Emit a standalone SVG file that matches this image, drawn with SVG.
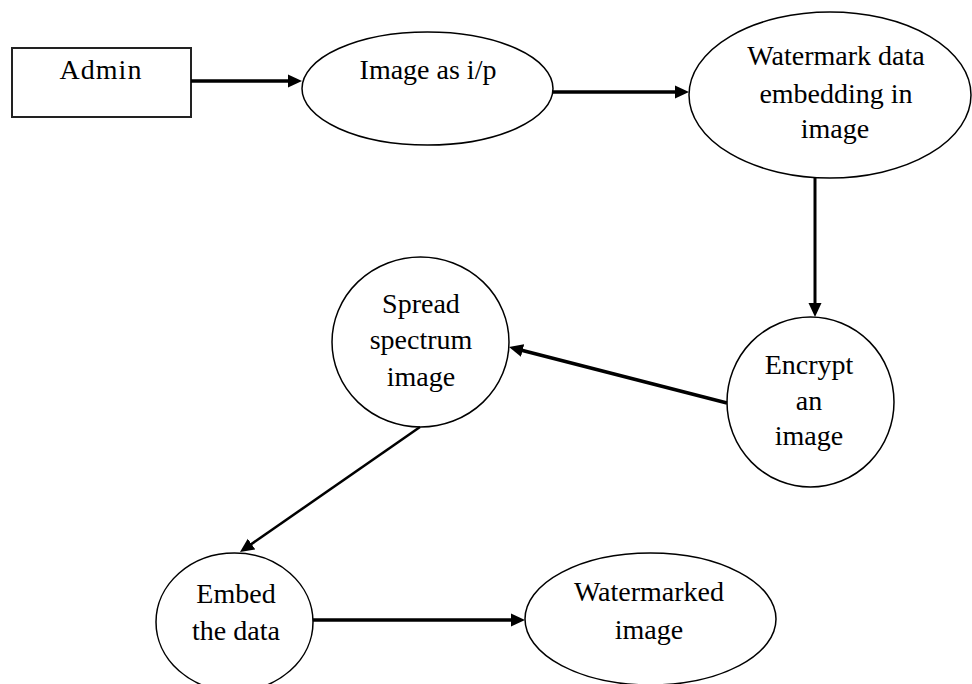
<svg xmlns="http://www.w3.org/2000/svg" width="972" height="684" viewBox="0 0 972 684">
  <style>
    .node { fill: #ffffff; stroke: #000000; stroke-width: 1.5; }
    .box { fill: #ffffff; stroke: #222222; stroke-width: 2; }
    .lbl { font-family: "Liberation Serif", "Times New Roman", serif; font-size: 28px; fill: #000000; text-anchor: middle; }
    .edge { fill: none; stroke: #000000; stroke-width: 3.5; marker-end: url(#arrow); }
    .thin { stroke-width: 2.5; }
  </style>
  <defs>
    <marker id="arrow" markerUnits="userSpaceOnUse" markerWidth="14" markerHeight="14" refX="4" refY="7" orient="auto">
      <path d="M0,0.5 L14,7 L0,13.5 z" fill="#000000"/>
    </marker>
  </defs>
  <rect width="972" height="684" fill="#ffffff"/>

  <g id="admin">
    <rect class="box" x="12" y="48" width="179" height="69"/>
    <text class="lbl" x="101" y="79" letter-spacing="1">Admin</text>
  </g>
  <g id="image-input">
    <ellipse class="node" cx="427.5" cy="88.5" rx="125.5" ry="56.5"/>
    <text class="lbl" x="428" y="79">Image as i/p</text>
  </g>
  <g id="watermark-embedding">
    <ellipse class="node" cx="830" cy="95" rx="141" ry="83"/>
    <text class="lbl" x="836" y="65">Watermark data</text>
    <text class="lbl" x="836" y="103">embedding in</text>
    <text class="lbl" x="835" y="138">image</text>
  </g>
  <g id="encrypt">
    <ellipse class="node" cx="810.5" cy="402" rx="83.5" ry="85"/>
    <text class="lbl" x="809" y="374">Encrypt</text>
    <text class="lbl" x="809" y="410">an</text>
    <text class="lbl" x="809" y="445">image</text>
  </g>
  <g id="spread-spectrum">
    <ellipse class="node" cx="420.5" cy="342" rx="88.5" ry="85"/>
    <text class="lbl" x="421" y="313">Spread</text>
    <text class="lbl" x="421" y="349">spectrum</text>
    <text class="lbl" x="421" y="386">image</text>
  </g>
  <g id="embed-data">
    <ellipse class="node" cx="234.5" cy="622" rx="78.5" ry="69"/>
    <text class="lbl" x="236" y="603">Embed</text>
    <text class="lbl" x="236" y="640">the data</text>
  </g>
  <g id="watermarked-image">
    <ellipse class="node" cx="650.5" cy="619" rx="125.5" ry="66"/>
    <text class="lbl" x="649" y="601">Watermarked</text>
    <text class="lbl" x="649" y="639">image</text>
  </g>

  <g id="connectors">
    <path class="edge" d="M191,81 H292"/>
    <path class="edge" d="M553,92 H679"/>
    <path class="edge" style="stroke-width:3" d="M815,178 V307"/>
    <path class="edge" d="M727,403 L518.7,349.5"/>
    <path class="edge thin" d="M420,427 L248.2,546.3"/>
    <path class="edge" d="M313,620 H515"/>
  </g>
</svg>
